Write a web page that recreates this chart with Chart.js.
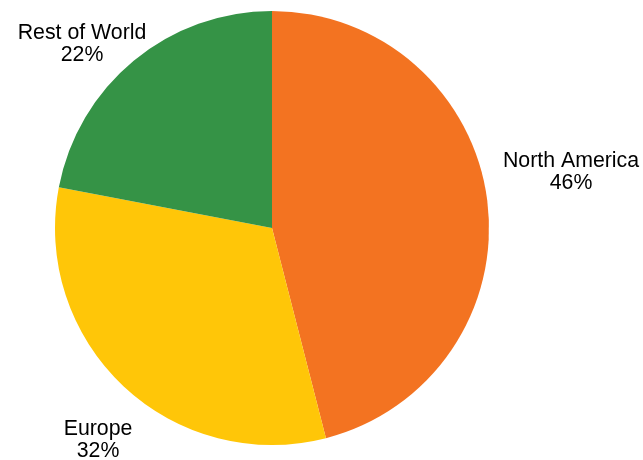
<!DOCTYPE html>
<html>
<head>
<meta charset="utf-8">
<script src="https://cdn.jsdelivr.net/npm/chart.js@4/dist/chart.umd.min.js"></script>
<style>
  html, body { margin: 0; padding: 0; background: #ffffff; }
  #wrap { width: 643px; height: 460px; position: relative; }
</style>
</head>
<body>
<div id="wrap"><canvas id="c" width="643" height="460"></canvas></div>
<script>
const categories = ["North America", "Europe", "Rest of World"];
const shares = [46, 32, 22];
const sliceColors = ["#F37321", "#FFC608", "#359346"];

const outsideLabels = {
  id: 'outsideLabels',
  afterDatasetsDraw(chart, args, opts) {
    const ctx = chart.ctx;
    const meta = chart.getDatasetMeta(0);
    const data = chart.data.datasets[0].data;
    const total = data.reduce((a, b) => a + b, 0);
    ctx.save();
    ctx.font = opts.font;
    ctx.fillStyle = opts.color;
    ctx.textAlign = 'center';
    ctx.textBaseline = 'alphabetic';
    meta.data.forEach((arc, i) => {
      const p = arc.getProps(['x', 'y', 'startAngle', 'endAngle', 'outerRadius'], true);
      const mid = (p.startAngle + p.endAngle) / 2;
      const d = p.outerRadius * opts.distance;
      const nudge = opts.nudges[i] || [0, 0];
      const cx = p.x + Math.cos(mid) * d + nudge[0];
      const cy = p.y + Math.sin(mid) * d + nudge[1];
      const pct = Math.round(data[i] / total * 100) + '%';
      const b1 = cy - opts.lineHeight / 2 + opts.capHeight / 2;
      ctx.fillText(chart.data.labels[i], cx, b1);
      ctx.fillText(pct, cx, b1 + opts.lineHeight);
    });
    ctx.restore();
  }
};

new Chart(document.getElementById('c'), {
  type: 'pie',
  data: {
    labels: categories,
    datasets: [{
      data: shares,
      backgroundColor: sliceColors,
      borderWidth: 0,
      hoverOffset: 0
    }]
  },
  options: {
    responsive: false,
    animation: false,
    events: [],
    rotation: 0,
    layout: { padding: { left: 55, right: 154, top: 11, bottom: 15 } },
    plugins: {
      legend: { display: false },
      tooltip: { enabled: false },
      outsideLabels: {
        font: '21.3px "Liberation Sans", Arial, sans-serif',
        color: '#000000',
        distance: 1.27,
        lineHeight: 22.3,
        capHeight: 15.5,
        nudges: [[25.6, -23.5], [14.7, 9.1], [-14.3, 26.4]]
      }
    }
  },
  plugins: [outsideLabels]
});
</script>
</body>
</html>
